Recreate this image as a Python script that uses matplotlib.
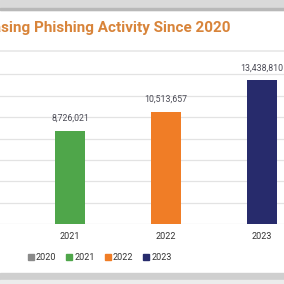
import matplotlib
matplotlib.use("Agg")
import matplotlib.pyplot as plt
from matplotlib.patches import Rectangle
from matplotlib.lines import Line2D

years = ["2020", "2021", "2022", "2023"]
values = [0, 8726021, 10513657, 13438810]
labels = ["", "8,726,021", "10,513,657", "13,438,810"]
colors = ["#8a8a8a", "#4fa64a", "#f07d26", "#272b6c"]
title = "Increasing Phishing Activity Since 2020"

plt.rcParams['font.family'] = ['Roboto', 'DejaVu Sans']
W = H = 284
fig = plt.figure(figsize=(2.84, 2.84), dpi=100)
fig.patch.set_facecolor("white")

def fy(px):
    return 1 - px / H

# card decorations
fig.add_artist(Rectangle((0, fy(10)), 1, 10 / H, transform=fig.transFigure,
                         color="#d9d9d9", zorder=0))
fig.add_artist(Rectangle((0, fy(10)), 1, 2 / H, transform=fig.transFigure,
                         color="#b8b8b8", zorder=0))
fig.add_artist(Line2D([0, 1], [fy(51), fy(51)], transform=fig.transFigure,
                      color="#e8e8e8", lw=1.2))
fig.add_artist(Rectangle((0, fy(280)), 1, 7 / H, transform=fig.transFigure,
                         color="#cfcfcf", zorder=0))
fig.add_artist(Rectangle((0, fy(284)), 1, 4 / H, transform=fig.transFigure,
                         color="#ececec", zorder=0))

fig.text(230 / W, fy(28), title, ha="right", va="center", fontsize=11,
         fontweight="bold", color="#d8843a")

base_px, top_px = 224, 56
ax = fig.add_axes([0, fy(base_px), 1, (base_px - top_px) / H])
ax.set_facecolor("none")
ppm = 10.68  # px per million
ax.set_ylim(0, (base_px - top_px) / ppm * 1e6)
x = list(range(len(years)))
ax.set_xlim(1 - 70 / 96, 1 - 70 / 96 + W / 96)
ax.bar(x, values, width=0.32, color=colors, zorder=3)
for xi, v, lab in zip(x, values, labels):
    if lab:
        ax.text(xi, v + 0.75e6, lab, ha="center", va="bottom", fontsize=6.3,
                color="#4a4a55")
ax.set_yticks([i * 2e6 for i in range(8)])
ax.grid(axis="y", color="#e3e3e3", lw=0.9, zorder=0)
ax.set_yticklabels([])
ax.tick_params(axis="y", length=0)
ax.set_xticks(x[1:])
ax.set_xticklabels(years[1:], fontsize=6.5, color="#333333")
ax.tick_params(axis="x", length=0, pad=6)
for s in ax.spines.values():
    s.set_visible(False)

handles = [Line2D([], [], marker="s", ls="none", color=c, markersize=4.5) for c in colors]
fig.legend(handles, years, loc="center", bbox_to_anchor=(99 / W, fy(258)),
           ncol=4, frameon=False, fontsize=6.5, handletextpad=0.1,
           columnspacing=0.9, handlelength=1.0, labelcolor="#333333")

fig.savefig("out.png", dpi=100)
